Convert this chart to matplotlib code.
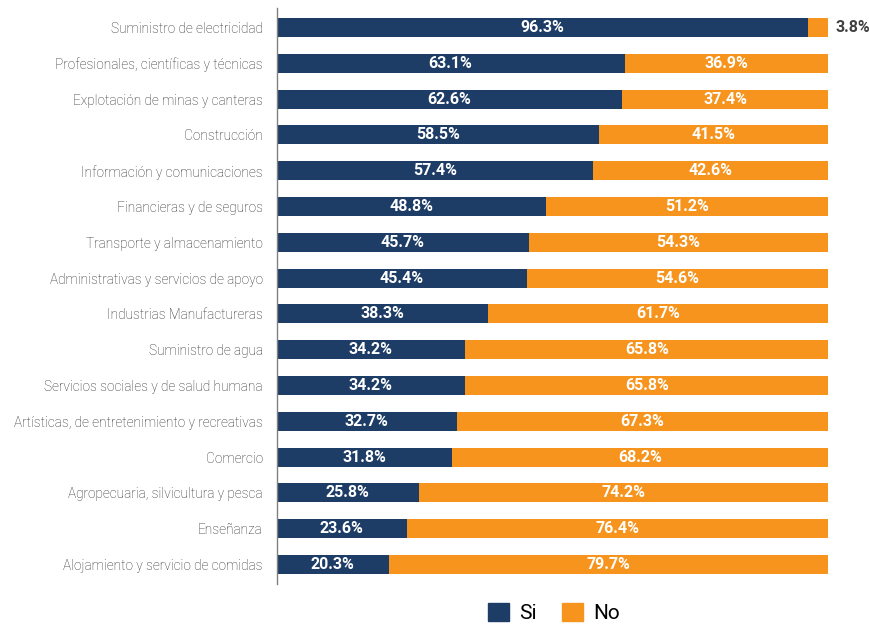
import matplotlib.pyplot as plt
from matplotlib.patches import Patch

plt.rcParams['font.family'] = ['Roboto', 'DejaVu Sans']

sectores = [
    'Suministro de electricidad',
    'Profesionales, científicas y técnicas',
    'Explotación de minas y canteras',
    'Construcción',
    'Información y comunicaciones',
    'Financieras y de seguros',
    'Transporte y almacenamiento',
    'Administrativas y servicios de apoyo',
    'Industrias Manufactureras',
    'Suministro de agua',
    'Servicios sociales y de salud humana',
    'Artísticas, de entretenimiento y recreativas',
    'Comercio',
    'Agropecuaria, silvicultura y pesca',
    'Enseñanza',
    'Alojamiento y servicio de comidas',
]
si = [96.3, 63.1, 62.6, 58.5, 57.4, 48.8, 45.7, 45.4, 38.3, 34.2, 34.2, 32.7, 31.8, 25.8, 23.6, 20.3]
no = [3.8, 36.9, 37.4, 41.5, 42.6, 51.2, 54.3, 54.6, 61.7, 65.8, 65.8, 67.3, 68.2, 74.2, 76.4, 79.7]

azul = '#1e3d66'
naranja = '#f7941d'

fig = plt.figure(figsize=(8.7, 6.27), dpi=100)
ax = fig.add_axes([0.318, 0.069, 0.634, 0.918])

y = range(len(sectores))
ax.barh(y, si, height=0.53, color=azul)
ax.barh(y, no, left=si, height=0.53, color=naranja)

for i in y:
    ax.text(si[i] / 2, i, f'{si[i]:.1f}%', ha='center', va='center',
            color='white', fontsize=11.5, fontweight='bold')
    if no[i] < 10:
        ax.text(si[i] + no[i] + 1.3, i, f'{no[i]:.1f}%', ha='left', va='center',
                color='#404040', fontsize=11.5, fontweight='bold')
    else:
        ax.text(si[i] + no[i] / 2, i, f'{no[i]:.1f}%', ha='center', va='center',
                color='white', fontsize=11.5, fontweight='bold')

ax.set_xlim(0, 100)
ax.set_ylim(len(sectores) - 0.46, -0.54)
ax.set_yticks(list(y))
ax.set_yticklabels(sectores, fontsize=9.8, color='#2a2a2a', fontweight='light')
ax.tick_params(axis='y', length=0, pad=10)
ax.set_xticks([])
for s in ['top', 'right', 'bottom']:
    ax.spines[s].set_visible(False)
ax.spines['left'].set_color('#808080')
ax.spines['left'].set_linewidth(1)

handles = [Patch(color=azul, label='Si'), Patch(color=naranja, label='No')]
fig.legend(handles=handles, loc='lower center', bbox_to_anchor=(0.637, -0.024),
           ncol=2, frameon=False, fontsize=15, handlelength=1.0, handleheight=1.0,
           handletextpad=0.5, columnspacing=1.2)

fig.savefig('out.png', dpi=100)
